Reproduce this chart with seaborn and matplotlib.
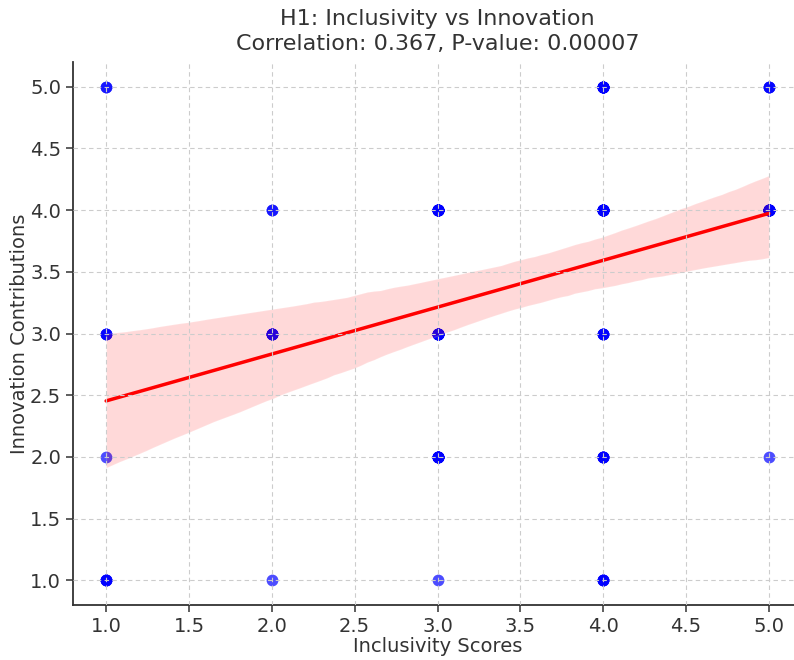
import numpy as np
import pandas as pd
import matplotlib
matplotlib.use("Agg")
import matplotlib.pyplot as plt
import seaborn as sns

# Observed (x, y) grid positions and how many respondents sit on each
inclusivity = [1, 1, 1, 1,
               2, 2, 2,
               3, 3, 3, 3,
               4, 4, 4, 4, 4,
               5, 5, 5]
innovation  = [5, 3, 2, 1,
               4, 3, 1,
               4, 3, 2, 1,
               5, 4, 3, 2, 1,
               5, 4, 2]
counts      = [2, 3, 1, 4,
               2, 6, 1,
               16, 11, 9, 1,
               10, 15, 4, 5, 4,
               3, 14, 1]

title = "H1: Inclusivity vs Innovation\nCorrelation: 0.367, P-value: 0.00007"
xlabel = "Inclusivity Scores"
ylabel = "Innovation Contributions"
xticks = [1.0, 1.5, 2.0, 2.5, 3.0, 3.5, 4.0, 4.5, 5.0]
yticks = [1.0, 1.5, 2.0, 2.5, 3.0, 3.5, 4.0, 4.5, 5.0]

df = pd.DataFrame({
    "Inclusivity": np.repeat(inclusivity, counts),
    "Innovation": np.repeat(innovation, counts),
})

sns.set_style("ticks")
plt.rcParams["font.family"] = ["DejaVu Sans"]
text_color = "#333333"

fig = plt.figure(figsize=(7.94, 6.60), dpi=100)
ax = fig.add_axes([73 / 794, 55 / 660, (802 - 73) / 794, (605 - 62) / 660])

np.random.seed(3)
sns.regplot(data=df, x="Inclusivity", y="Innovation", ax=ax, seed=3,
            scatter_kws={"color": "blue", "alpha": 0.7, "s": 72, "linewidths": 0},
            line_kws={"color": "red", "lw": 2.5})

ax.set_xlim(0.8, 5.2)
ax.set_ylim(0.8, 5.2)
ax.set_xticks(xticks)
ax.set_yticks(yticks)
ax.set_xticklabels([f"{t:.1f}" for t in xticks])
ax.set_yticklabels([f"{t:.1f}" for t in yticks])

ax.set_axisbelow(False)
ax.grid(True, linestyle=(0, (4, 3)), color="#cccccc", linewidth=0.8)

for side in ["top", "right"]:
    ax.spines[side].set_visible(False)
for side in ["left", "bottom"]:
    ax.spines[side].set_color(text_color)
    ax.spines[side].set_linewidth(1.3)

ax.tick_params(axis="both", labelsize=14, colors=text_color, length=5, width=1.1)
ax.set_xlabel(xlabel, fontsize=14, color=text_color, labelpad=1)
ax.set_ylabel(ylabel, fontsize=14, color=text_color, labelpad=1)
ax.set_title(title, fontsize=16, color=text_color, pad=9, linespacing=1.3)

fig.savefig("out.png", dpi=100)
